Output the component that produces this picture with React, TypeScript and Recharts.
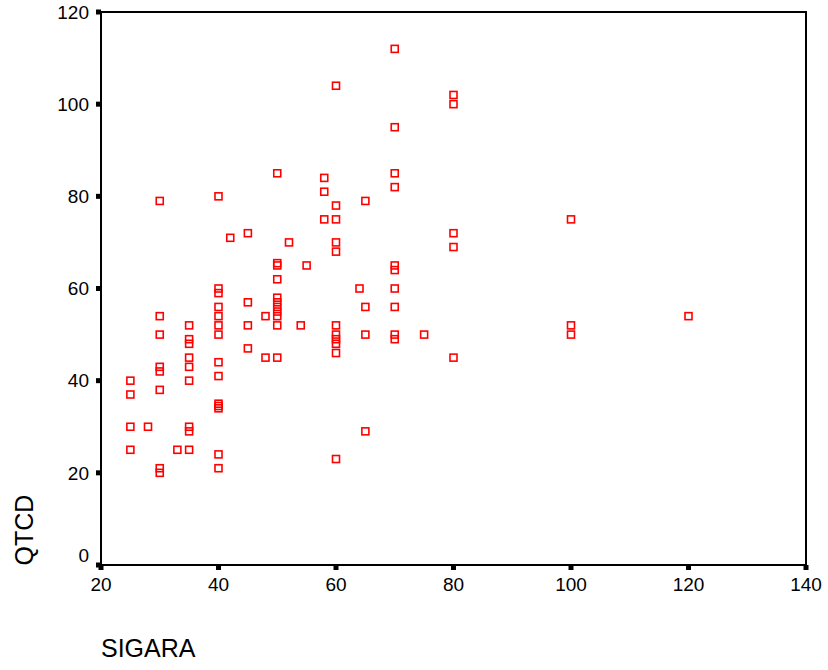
import React from 'react';
import { ScatterChart, Scatter, XAxis, YAxis, ReferenceArea } from 'recharts';

const sigara = [
  25, 25, 25, 25,
  28,
  30, 30, 30, 30, 30, 30, 30, 30,
  33,
  35, 35, 35, 35, 35, 35, 35, 35, 35,
  40, 40, 40, 40, 40, 40, 40, 40, 40, 40, 40, 40, 40, 40,
  42,
  45, 45, 45, 45,
  48, 48,
  50, 50, 50, 50, 50, 50, 50, 50, 50, 50, 50,
  52, 54, 55,
  58, 58, 58,
  60, 60, 60, 60, 60, 60, 60, 60, 60, 60, 60,
  64,
  65, 65, 65, 65,
  70, 70, 70, 70, 70, 70, 70, 70, 70, 70,
  75,
  80, 80, 80, 80, 80,
  100, 100, 100,
  120,
];

const qtcd = [
  40, 37, 30, 25,
  30,
  79, 54, 50, 43, 42, 38, 21, 20,
  25,
  52, 49, 48, 45, 43, 40, 30, 29, 25,
  80, 60, 59, 56, 54, 52, 50, 44, 41, 35, 34.5, 34, 24, 21,
  71,
  72, 57, 52, 47,
  54, 45,
  85, 65.5, 65, 62, 58, 57, 56, 55, 54, 52, 45,
  70, 52, 65,
  84, 81, 75,
  104, 78, 75, 70, 68, 52, 50, 49, 48, 46, 23,
  60,
  79, 56, 50, 29,
  112, 95, 85, 82, 65, 64, 60, 56, 50, 49,
  50,
  102, 100, 72, 69, 45,
  75, 52, 50,
  54,
];

const xTicks = [20, 40, 60, 80, 100, 120, 140];
const yTicks = [0, 20, 40, 60, 80, 100, 120];

const points = sigara.map((s, i) => ({ sigara: s, qtcd: qtcd[i] }));

const FONT = '"Liberation Sans", Arial, Helvetica, sans-serif';

const SquareMarker = (props: any) => {
  const { cx, cy } = props;
  if (cx == null || cy == null) return null;
  return (
    <rect
      x={cx - 3.5}
      y={cy - 3.5}
      width={7}
      height={7}
      fill="none"
      stroke="#ff0000"
      strokeWidth={1.6}
    />
  );
};

const XTick = (props: any) => {
  const { x, y, payload } = props;
  return (
    <g>
      <rect x={x - 2.5} y={y - 13} width={5} height={5} fill="#000" />
      <text
        x={x}
        y={y}
        dy="0.71em"
        textAnchor="middle"
        fontSize={19}
        fontFamily={FONT}
        fill="#000"
      >
        {payload.value}
      </text>
    </g>
  );
};

const YTick = (props: any) => {
  const { x, y, payload } = props;
  const lift = payload.value === 0 ? -10 : 0;
  return (
    <g>
      <rect x={x + 7} y={y - 2.5} width={5} height={5} fill="#000" />
      <text
        x={x}
        y={y + lift}
        dy="0.355em"
        textAnchor="end"
        fontSize={19}
        fontFamily={FONT}
        fill="#000"
      >
        {payload.value}
      </text>
    </g>
  );
};

export default function App() {
  return (
    <div style={{ position: 'absolute', left: 0, top: 0 }}>
      <ScatterChart
        width={828}
        height={670}
        margin={{ top: 12, right: 22, bottom: 0, left: 0 }}
      >
        <XAxis
          type="number"
          dataKey="sigara"
          domain={[20, 140]}
          ticks={xTicks}
          interval={0}
          height={105}
          axisLine={{ stroke: '#000', strokeWidth: 2 }}
          tickLine={false}
          tickSize={0}
          tickMargin={13}
          tick={<XTick />}
          label={{
            content: () => (
              <text x={101} y={657} fontSize={25} fontFamily={FONT} fill="#000">
                SIGARA
              </text>
            ),
          }}
        />
        <YAxis
          type="number"
          dataKey="qtcd"
          domain={[0, 120]}
          ticks={yTicks}
          interval={0}
          width={101}
          axisLine={{ stroke: '#000', strokeWidth: 2 }}
          tickLine={false}
          tickSize={0}
          tickMargin={12}
          tick={<YTick />}
          label={{
            content: () => (
              <text
                x={33}
                y={530}
                transform="rotate(-90, 33, 530)"
                textAnchor="middle"
                fontSize={25}
                fontFamily={FONT}
                fill="#000"
              >
                QTCD
              </text>
            ),
          }}
        />
        <ReferenceArea
          x1={20}
          x2={140}
          y1={0}
          y2={120}
          fill="none"
          fillOpacity={0}
          stroke="#000"
          strokeWidth={2}
        />
        <Scatter
          data={points}
          shape={SquareMarker}
          isAnimationActive={false}
        />
      </ScatterChart>
    </div>
  );
}
